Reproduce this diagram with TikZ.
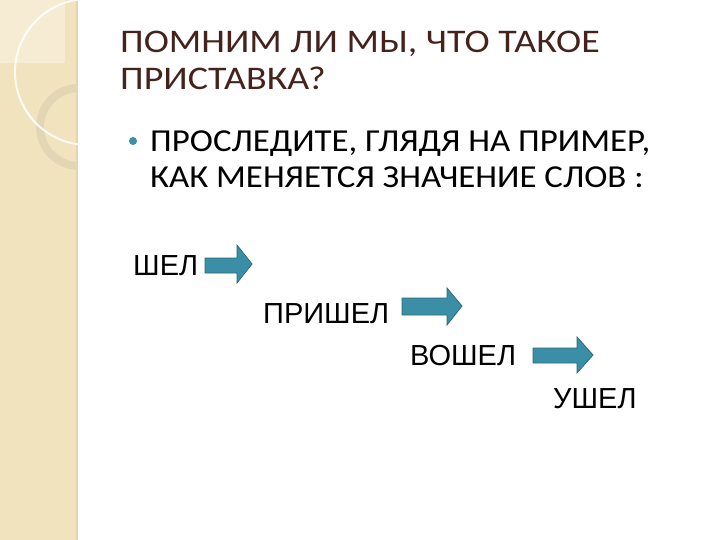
\documentclass[tikz,border=0pt]{standalone}
\usepackage{fontspec}
\setmainfont{Carlito}
\newfontfamily\titlefont[FakeStretch=1.15]{Carlito}
\newfontfamily\bodyfont[FakeStretch=1.09]{Carlito}
\newfontfamily\wordfont{Liberation Sans}
\definecolor{stripbg}{HTML}{F1E3BD}
\definecolor{stripl}{HTML}{F6ECD3}
\definecolor{ringc}{HTML}{E2D6B4}
\definecolor{titlec}{HTML}{45231C}
\definecolor{bulletc}{HTML}{3C8FA8}
\definecolor{arrowf}{HTML}{3A8EA5}
\definecolor{arrowd}{HTML}{2B6B7D}
\begin{document}
\begin{tikzpicture}[x=1pt,y=-1pt,
  titletxt/.style={anchor=base west,inner sep=0pt,text=titlec,font=\titlefont\fontsize{33}{33}\selectfont},
  bodytxt/.style={anchor=base west,inner sep=0pt,text=black,font=\bodyfont\fontsize{32}{32}\selectfont},
  wordtxt/.style={anchor=base west,inner sep=0pt,text=black,font=\wordfont\fontsize{29}{29}\selectfont},
  blockarrow/.style={fill=arrowf,draw=arrowd,line width=0.8pt,line join=miter}]
\useasboundingbox (0,0) rectangle (720,540);
\fill[white] (0,0) rectangle (720,540);
% left decorative strip
\fill[stripbg] (0,0) rectangle (78,540);
\fill[stripl] (0,0) rectangle (65,63);
\draw[line width=1.5pt,color=stripbg!80!black!30!stripbg] (77,0) -- (77,540);
\begin{scope}
  \clip (0,0) rectangle (78,540);
  \draw[ringc,line width=8pt] (79,127) circle[radius=39];
  \draw[white,opacity=0.85,line width=2pt] (88,72) circle[radius=73];
\end{scope}
% title
\node[titletxt] (t1) at (120,53) {ПОМНИМ ЛИ МЫ, ЧТО ТАКОЕ};
\node[titletxt] (t2) at (120,90) {ПРИСТАВКА?};
% bullet text
\fill[bulletc] (133,141) circle[radius=4];
\node[bodytxt] (b1) at (150,152) {ПРОСЛЕДИТЕ, ГЛЯДЯ НА ПРИМЕР,};
\node[bodytxt] (b2) at (150,188) {КАК МЕНЯЕТСЯ ЗНАЧЕНИЕ СЛОВ :};
% words
\node[wordtxt] (w1) at (133,275) {ШЕЛ};
\node[wordtxt] (w2) at (263,323) {ПРИШЕЛ};
\node[wordtxt] (w3) at (410,365) {ВОШЕЛ};
\node[wordtxt] (w4) at (553,408) {УШЕЛ};
% block arrows
\draw[blockarrow] (205,258) -- (237,258) -- (237,245) -- (252,264) -- (237,283) -- (237,273) -- (205,273) -- cycle;
\draw[blockarrow] (402,298) -- (447,298) -- (447,288) -- (462,306) -- (447,325) -- (447,315) -- (402,315) -- cycle;
\draw[blockarrow] (533,348) -- (577,348) -- (577,337) -- (593,355) -- (577,373) -- (577,363) -- (533,363) -- cycle;
\end{tikzpicture}
\end{document}
